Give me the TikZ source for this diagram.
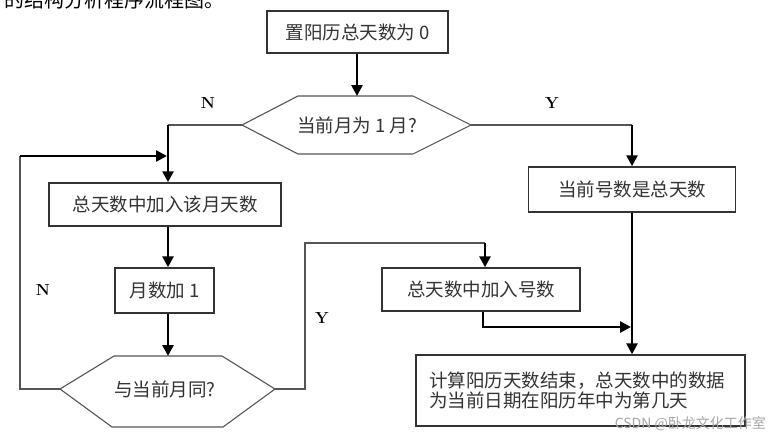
\documentclass[tikz,border=0pt]{standalone}
\usepackage{fontspec}
\newfontfamily\cjk{Noto Sans CJK SC}
\usetikzlibrary{arrows.meta}
\definecolor{ink}{HTML}{333333}
\definecolor{wire}{HTML}{555555}
\tikzset{
  box/.style={draw=ink,line width=1.4pt,fill=white,inner sep=0pt,font=\cjk\fontsize{18.5}{21}\selectfont,text=ink},
  qtext/.style={font=\cjk\fontsize{18.5}{21}\selectfont,text=ink},
  hexa/.style={draw=wire,line width=1.1pt},
  conn/.style={draw=wire,line width=1.5pt},
  arr/.style={draw=black,line width=2.6pt,-{Triangle[length=11pt,width=11pt]}},
  lab/.style={font=\bfseries\fontsize{16}{18}\selectfont,text=black},
}
\begin{document}
\begin{tikzpicture}[x=1pt,y=-1pt]
\useasboundingbox (0,0) rectangle (771,437);
\clip (0,0) rectangle (771,437);
\fill[white] (0,0) rectangle (771,437);
% partial caption at top
\node[anchor=south west,inner sep=0pt,font=\cjk\fontsize{20}{22}\selectfont,text=black] (cap) at (4,9) {的结构分析程序流程图。};
% boxes
\node[box,minimum width=181pt,minimum height=42pt] (start) at (357.5,32) {置阳历总天数为 0};
\node[box,minimum width=232pt,minimum height=43pt] (addm) at (165,204.5) {总天数中加入该月天数};
\node[box,minimum width=99pt,minimum height=45pt] (inc) at (164.5,290.5) {月数加 1};
\node[box,minimum width=198pt,minimum height=43pt] (addd) at (481,289.5) {总天数中加入号数};
\node[box,minimum width=207pt,minimum height=45pt] (cur) at (632,189.5) {当前号数是总天数};
\node[box,minimum width=329pt,minimum height=71pt,text width=303pt,align=left] (done) at (580.5,390.5) {计算阳历天数结束，总天数中的数据\\[-0.5pt]为当前日期在阳历年中为第几天};
% hexagon 1
\coordinate (h1L) at (242,125);
\coordinate (h1R) at (471,125);
\coordinate (h1T) at (357,96);
\draw[hexa] (h1L) -- (298,96) -- (413,96) -- (h1R) -- (413,154) -- (298,154) -- cycle;
\node[qtext] (q1) at (357,125) {当前月为 1 月?};
% hexagon 2
\coordinate (h2L) at (60,389);
\coordinate (h2R) at (275,389);
\coordinate (h2T) at (168,356);
\draw[hexa] (h2L) -- (114,356) -- (222,356) -- (h2R) -- (223,427) -- (112,427) -- cycle;
\node[qtext] (q2) at (165,389) {与当前月同?};
% junction coordinates
\coordinate (jL) at (168,125);
\coordinate (jR) at (632,125);
\coordinate (lpA) at (20,389);
\coordinate (lpB) at (20,156);
\coordinate (lpC) at (167,156);
\coordinate (yA) at (305,389);
\coordinate (yB) at (305,243);
\coordinate (yC) at (485,243);
\coordinate (mA) at (483,327);
\coordinate (mB) at (631,327);
% connectors
\draw[arr] (start.south -| h1T) -- (h1T);
\draw[conn] (h1L) -- (jL);
\draw[arr] (jL) -- (addm.north -| jL);
\draw[conn] (h1R) -- (jR);
\draw[arr] (jR) -- (cur.north);
\draw[arr] (addm.south -| jL) -- (inc.north -| jL);
\draw[arr] (inc.south -| jL) -- (h2T);
\draw[conn] (h2L) -- (lpA) -- (lpB);
\draw[arr] (lpB) -- (lpC);
\draw[conn] (h2R) -- (yA) -- (yB) -- (yC);
\draw[arr] (yC) -- (addd.north -| yC);
\draw[arr] (addd.south -| mA) -- (mA) -- (mB);
\draw[arr] (cur.south) -- (done.north -| cur.south);
% labels
\node[lab] (n1) at (208,103) {N};
\node[lab] (y1) at (552,103) {Y};
\node[lab] (n2) at (43,290) {N};
\node[lab] (y2) at (322,318) {Y};
% watermark
\node[anchor=east,inner sep=0pt,font=\cjk\fontsize{14}{16}\selectfont,text=black!35] (wm) at (766,424) {CSDN @卧龙文化工作室};
\end{tikzpicture}
\end{document}
